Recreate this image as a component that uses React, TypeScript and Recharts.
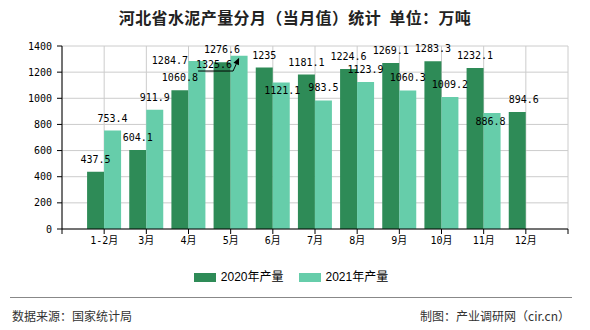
import React from 'react';
import { BarChart, Bar, XAxis, YAxis, CartesianGrid, LabelList } from 'recharts';

const categories = ['1-2月', '3月', '4月', '5月', '6月', '7月', '8月', '9月', '10月', '11月', '12月'];
const output2020: (number | null)[] = [437.5, 604.1, 1060.8, 1276.6, 1235, 1181.1, 1224.6, 1269.1, 1283.3, 1232.1, 894.6];
const output2021: (number | null)[] = [753.4, 911.9, 1284.7, 1325.6, 1121.1, 983.5, 1123.9, 1060.3, 1009.2, 886.8, null];
const yTicks = [0, 200, 400, 600, 800, 1000, 1200, 1400];
const seriesNames = ['2020年产量', '2021年产量'];
const seriesColors = ['#2E8B57', '#66CDAA'];
const titleText = '河北省水泥产量分月（当月值）统计  单位：万吨';
const sourceText = '数据来源：国家统计局';
const creditText = '制图：产业调研网（cir.cn）';

// label nudges (layout only): [dx, dy] relative to default label spot
const nudge2020: Record<string, [number, number]> = { '12月': [6.5, 0] };
const nudge2021: Record<string, [number, number]> = {
  '4月': [-27, 12],
  '5月': [-25, 21],
  '6月': [1, 20.5],
  '11月': [-1.5, 20.5],
};
const leaderCategory2021 = '5月';

const data = categories.map((c, i) => ({
  pos: i + 1,
  name: c,
  y2020: output2020[i],
  y2021: output2021[i],
}));
const xTicks = Array.from({ length: categories.length + 2 }, (_, i) => i);

const monoFont = "'DejaVu Sans Mono', 'Noto Sans CJK SC', monospace";

const makeLabel = (series: (number | null)[], nudges: Record<string, [number, number]>, leaderCat?: string) =>
  (props: any) => {
    const vb = props.viewBox || {};
    const x = props.x ?? vb.x;
    const y = props.y ?? vb.y;
    const width = props.width ?? vb.width;
    const value = props.value;
    if (value == null || x == null) return null;
    let index = props.index;
    if (index == null) index = (series as any[]).indexOf(value);
    const cat = categories[index];
    const n = nudges[cat] || [0, 0];
    const cx = x + width / 2;
    const tx = cx + n[0];
    const ty = y - 12.5 + n[1];
    const els: any[] = [];
    if (leaderCat && cat === leaderCat) {
      const yLine = y + 15.3;
      const tipX = cx;
      const tipY = y + 2;
      const sx = cx - 6;
      const dx = tipX - sx;
      const dy = tipY - yLine;
      const len = Math.sqrt(dx * dx + dy * dy);
      const ux = dx / len;
      const uy = dy / len;
      const bx = tipX - 7 * ux;
      const by = tipY - 7 * uy;
      const px = -uy;
      const py = ux;
      els.push(
        <polyline key="l" points={`${cx - 41},${yLine} ${sx},${yLine} ${bx},${by}`} fill="none" stroke="#000" strokeWidth={1} />
      );
      els.push(
        <polygon key="a" points={`${tipX},${tipY} ${bx + 3 * px},${by + 3 * py} ${bx - 3 * px},${by - 3 * py}`} fill="#000" />
      );
    }
    els.push(
      <text key="t" x={tx} y={ty} textAnchor="middle" dominantBaseline="central" fontSize={10} fontFamily={monoFont} fill="#000">
        {value}
      </text>
    );
    return <g>{els}</g>;
  };

export default function App() {
  return (
    <div style={{ position: 'absolute', left: 0, top: 0, width: 590, height: 330, background: '#fff', overflow: 'hidden' }}>
      <div
        style={{
          position: 'absolute', top: 9, left: 0, width: 590, height: 16, lineHeight: '16px', textAlign: 'center',
          fontFamily: "'Noto Sans CJK SC', sans-serif", fontSize: 16, fontWeight: 'bold', color: '#222',
          letterSpacing: 0.4, whiteSpace: 'pre',
        }}
      >
        {titleText}
      </div>
      <BarChart
        width={590}
        height={330}
        data={data}
        margin={{ top: 46, right: 22, left: 0, bottom: 71 }}
        barGap={0}
        barCategoryGap={0}
      >
        <CartesianGrid stroke="#cccccc" />
        <XAxis
          type="number"
          dataKey="pos"
          domain={[0, categories.length + 1]}
          ticks={xTicks}
          interval={0}
          allowDecimals={false}
          height={30}
          tickSize={5}
          tickMargin={3}
          tickFormatter={(v: number) => categories[v - 1] ?? ''}
          stroke="#000"
          tick={{ fill: '#000', fontSize: 10, fontFamily: monoFont }}
        />
        <YAxis
          domain={[0, 1400]}
          ticks={yTicks}
          interval={0}
          width={62}
          tickSize={5}
          tickMargin={5}
          stroke="#000"
          tick={{ fill: '#000', fontSize: 10, fontFamily: monoFont }}
        />
        <Bar dataKey="y2020" name={seriesNames[0]} fill={seriesColors[0]} barSize={17} isAnimationActive={false}>
          <LabelList dataKey="y2020" content={makeLabel(output2020, nudge2020)} />
        </Bar>
        <Bar dataKey="y2021" name={seriesNames[1]} fill={seriesColors[1]} barSize={17} isAnimationActive={false}>
          <LabelList dataKey="y2021" content={makeLabel(output2021, nudge2021, leaderCategory2021)} />
        </Bar>
      </BarChart>
      <div
        style={{
          position: 'absolute', top: 270, left: 0, width: 590, height: 14, display: 'flex', justifyContent: 'center',
          alignItems: 'center', paddingRight: 8, boxSizing: 'border-box',
        }}
      >
        {seriesNames.map((s, i) => (
          <div key={s} style={{ display: 'flex', alignItems: 'center', marginLeft: i ? 15 : 0 }}>
            <div style={{ width: 22, height: 9, background: seriesColors[i], marginRight: 5 }} />
            <span style={{ fontFamily: "'Liberation Sans', 'Noto Sans CJK SC', sans-serif", fontSize: 12, color: '#000', lineHeight: '14px' }}>
              {s}
            </span>
          </div>
        ))}
      </div>
      <div style={{ position: 'absolute', top: 297, left: 10, width: 562, height: 1, background: '#888' }} />
      <div
        style={{
          position: 'absolute', top: 309, left: 12, fontFamily: "'Noto Sans CJK SC', sans-serif", fontSize: 12,
          lineHeight: '14px', color: '#333',
        }}
      >
        {sourceText}
      </div>
      <div
        style={{
          position: 'absolute', top: 309, right: 20, fontFamily: "'Noto Sans CJK SC', sans-serif", fontSize: 12,
          lineHeight: '14px', color: '#333',
        }}
      >
        {creditText}
      </div>
    </div>
  );
}
